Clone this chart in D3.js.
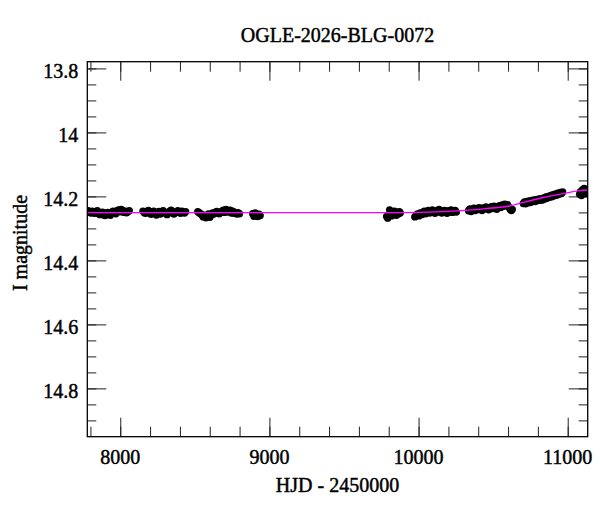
<!DOCTYPE html>
<html>
<head>
<meta charset="utf-8">
<style>
  body { margin: 0; background: #fff; }
  text { font-family: "Liberation Serif", serif; fill: #000; stroke: #000; stroke-width: 0.45px; }
</style>
</head>
<body>
<svg id="chart" width="600" height="512"></svg>
<script src="https://d3js.org/d3.v7.min.js"></script>
<script>
  const title = "OGLE-2026-BLG-0072";
  const xTitle = "HJD - 2450000";
  const yTitle = "I magnitude";

  const xTickValues = [8000, 9000, 10000, 11000];
  const xTickLabels = ["8000", "9000", "10000", "11000"];
  const yTickValues = [13.8, 14, 14.2, 14.4, 14.6, 14.8];
  const yTickLabels = ["13.8", "14", "14.2", "14.4", "14.6", "14.8"];

  // observations, one season per line
  const obsHJD = [
    7785, 7795, 7803, 7812, 7820, 7829, 7838, 7846, 7855, 7864, 7873, 7881, 7890, 7899, 7908, 7917, 7925, 7934, 7943, 7952, 7961, 7970, 7979, 7988, 7997, 8006, 8015, 8024, 8033, 8042, 8051, 8060,
    8152, 8161, 8170, 8179, 8188, 8197, 8206, 8215, 8224, 8233, 8242, 8251, 8260, 8269, 8278, 8287, 8296, 8305, 8314, 8323, 8332, 8341, 8350, 8359, 8368, 8377, 8386, 8395, 8404, 8413, 8422, 8431, 8438,
    8520, 8529, 8538, 8547, 8556, 8565, 8574, 8583, 8592, 8601, 8610, 8619, 8628, 8637, 8646, 8655, 8664, 8673, 8682, 8691, 8700, 8709, 8718, 8727, 8736, 8745, 8754, 8763, 8772, 8781, 8790, 8799,
    8888, 8896, 8905, 8913, 8921, 8930, 8938,
    9786, 9793, 9800, 9806, 9812, 9819, 9825, 9832, 9838, 9845, 9851, 9858, 9864, 9871, 9877,
    9975, 9984, 9993, 10002, 10011, 10020, 10029, 10038, 10047, 10056, 10065, 10074, 10083, 10092, 10101, 10110, 10119, 10128, 10137, 10146, 10155, 10164, 10173, 10182, 10191, 10200, 10209, 10218, 10227, 10236, 10245, 10253,
    10335, 10344, 10353, 10362, 10371, 10380, 10389, 10398, 10407, 10416, 10425, 10434, 10443, 10452, 10461, 10470, 10479, 10488, 10497, 10506, 10515, 10524, 10533, 10542, 10551, 10560, 10569, 10578, 10587, 10596, 10605, 10614, 10622, 10628,
    10702, 10710, 10718, 10726, 10734, 10742, 10750, 10758, 10766, 10774, 10782, 10790, 10798, 10806, 10814, 10822, 10830, 10838, 10846, 10854, 10862, 10870, 10878, 10886, 10894, 10902, 10910, 10918, 10926, 10934, 10942, 10950, 10958, 10966,
    11080, 11086, 11092, 11098, 11104, 11110, 11116, 11122, 11128, 11134, 11140
  ];
  const obsMag = [
    14.245, 14.250, 14.252, 14.246, 14.251, 14.253, 14.248, 14.245, 14.254, 14.257, 14.251, 14.249, 14.258, 14.260, 14.252, 14.250, 14.255, 14.259, 14.249, 14.246, 14.251, 14.254, 14.245, 14.242, 14.248, 14.241, 14.244, 14.250, 14.246, 14.251, 14.248, 14.245,
    14.246, 14.251, 14.253, 14.248, 14.244, 14.252, 14.256, 14.249, 14.246, 14.253, 14.258, 14.250, 14.247, 14.255, 14.252, 14.245, 14.249, 14.253, 14.257, 14.250, 14.246, 14.243, 14.249, 14.255, 14.252, 14.248, 14.245, 14.250, 14.253, 14.246, 14.249, 14.252, 14.248,
    14.248, 14.251, 14.254, 14.257, 14.264, 14.259, 14.267, 14.261, 14.255, 14.265, 14.258, 14.252, 14.255, 14.250, 14.247, 14.251, 14.254, 14.249, 14.246, 14.243, 14.250, 14.241, 14.245, 14.249, 14.243, 14.252, 14.246, 14.253, 14.250, 14.255, 14.251, 14.254,
    14.254, 14.262, 14.252, 14.258, 14.263, 14.256, 14.260,
    14.263, 14.268, 14.258, 14.242, 14.252, 14.261, 14.248, 14.256, 14.246, 14.254, 14.259, 14.250, 14.255, 14.248, 14.252,
    14.264, 14.259, 14.255, 14.261, 14.252, 14.257, 14.250, 14.246, 14.254, 14.249, 14.244, 14.252, 14.246, 14.242, 14.250, 14.253, 14.245, 14.249, 14.241, 14.247, 14.252, 14.248, 14.244, 14.249, 14.253, 14.245, 14.248, 14.242, 14.250, 14.246, 14.244, 14.249,
    14.245, 14.239, 14.247, 14.242, 14.237, 14.244, 14.238, 14.241, 14.235, 14.240, 14.244, 14.236, 14.239, 14.233, 14.238, 14.242, 14.235, 14.232, 14.238, 14.231, 14.236, 14.240, 14.233, 14.229, 14.235, 14.227, 14.231, 14.224, 14.229, 14.226, 14.233, 14.240, 14.244, 14.241,
    14.222, 14.217, 14.223, 14.216, 14.220, 14.214, 14.219, 14.213, 14.216, 14.211, 14.216, 14.210, 14.213, 14.208, 14.212, 14.207, 14.211, 14.205, 14.208, 14.202, 14.206, 14.200, 14.203, 14.197, 14.201, 14.195, 14.198, 14.192, 14.196, 14.190, 14.193, 14.188, 14.191, 14.186,
    14.193, 14.185, 14.197, 14.180, 14.188, 14.175, 14.184, 14.191, 14.178, 14.183, 14.186
  ];

  // model curve
  const modelHJD = [7779, 9000, 9800, 10000, 10200, 10330, 10450, 10610, 10700, 10822, 10995, 11080, 11134];
  const modelMag = [14.251, 14.251, 14.251, 14.250, 14.247, 14.243, 14.238, 14.230, 14.219, 14.205, 14.189, 14.182, 14.180];

  const svg = d3.select("#chart");
  const plot = { left: 87.3, right: 587.7, top: 61.7, bottom: 436.7 };

  const x = d3.scaleLinear().domain([7779, 11134]).range([plot.left, plot.right]);
  const y = d3.scaleLinear().domain([13.779, 14.951]).range([plot.top, plot.bottom]);

  const xMinor = d3.range(7800, 11134, 200);
  const yMinor = d3.range(13.8, 14.95, 0.05).map(d => +d.toFixed(2));

  svg.append("defs").append("clipPath").attr("id", "clip")
    .append("rect")
    .attr("x", plot.left).attr("y", plot.top)
    .attr("width", plot.right - plot.left).attr("height", plot.bottom - plot.top);

  // ticks on all four sides, pointing inwards
  function ticks(axis, tx, ty, values, size) {
    const g = svg.append("g")
      .attr("transform", `translate(${tx},${ty})`)
      .call(axis.tickValues(values).tickSize(size).tickFormat(""));
    g.select(".domain").remove();
    g.selectAll("line").attr("stroke", "#222").attr("stroke-width", 1);
    return g;
  }
  ticks(d3.axisBottom(x), 0, plot.bottom, xMinor, -10);
  ticks(d3.axisBottom(x), 0, plot.bottom, xTickValues, -19);
  ticks(d3.axisTop(x), 0, plot.top, xMinor, -10);
  ticks(d3.axisTop(x), 0, plot.top, xTickValues, -19);
  ticks(d3.axisLeft(y), plot.left, 0, yMinor, -9);
  ticks(d3.axisLeft(y), plot.left, 0, yTickValues, -19);
  ticks(d3.axisRight(y), plot.right, 0, yMinor, -9);
  ticks(d3.axisRight(y), plot.right, 0, yTickValues, -19);

  // tick labels
  svg.append("g").selectAll("text")
    .data(xTickValues)
    .join("text")
    .attr("x", d => x(d))
    .attr("y", 463.5)
    .attr("text-anchor", "middle")
    .attr("font-size", 20)
    .text((d, i) => xTickLabels[i]);

  svg.append("g").selectAll("text")
    .data(yTickValues)
    .join("text")
    .attr("x", 78.3)
    .attr("y", d => y(d) + 9.5)
    .attr("text-anchor", "end")
    .attr("font-size", 20)
    .text((d, i) => yTickLabels[i]);

  // data points
  const obs = obsHJD.map((d, i) => ({ t: d, m: obsMag[i] }));
  svg.append("g")
    .attr("clip-path", "url(#clip)")
    .selectAll("circle")
    .data(obs)
    .join("circle")
    .attr("cx", d => x(d.t))
    .attr("cy", d => y(d.m))
    .attr("r", 3.7)
    .attr("fill", "#000");

  // model
  const model = modelHJD.map((d, i) => ({ t: d, m: modelMag[i] }));
  svg.append("path")
    .datum(model)
    .attr("clip-path", "url(#clip)")
    .attr("fill", "none")
    .attr("stroke", "#ff00ff")
    .attr("stroke-width", 1.3)
    .attr("d", d3.line().x(d => x(d.t)).y(d => y(d.m)).curve(d3.curveMonotoneX));

  // frame
  svg.append("rect")
    .attr("x", plot.left).attr("y", plot.top)
    .attr("width", plot.right - plot.left).attr("height", plot.bottom - plot.top)
    .attr("fill", "none")
    .attr("stroke", "#000")
    .attr("stroke-width", 1.3);

  // titles
  svg.append("text")
    .attr("x", (plot.left + plot.right) / 2)
    .attr("y", 41.7)
    .attr("text-anchor", "middle")
    .attr("font-size", 20)
    .text(title);

  svg.append("text")
    .attr("x", (plot.left + plot.right) / 2)
    .attr("y", 492)
    .attr("text-anchor", "middle")
    .attr("font-size", 20)
    .text(xTitle);

  svg.append("text")
    .attr("transform", "translate(27,243) rotate(-90)")
    .attr("text-anchor", "middle")
    .attr("font-size", 20)
    .text(yTitle);
</script>
</body>
</html>
